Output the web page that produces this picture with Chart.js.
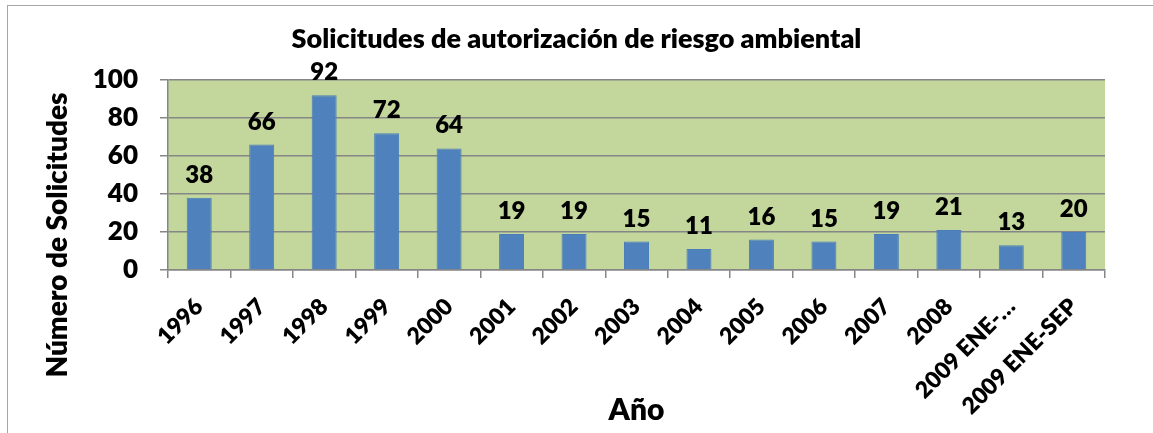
<!DOCTYPE html>
<html>
<head>
<meta charset="utf-8">
<script src="https://cdn.jsdelivr.net/npm/chart.js@4"></script>
<style>
  html, body { margin: 0; padding: 0; background: #fff; }
  #wrap { width: 1153px; height: 433px; position: relative; }
</style>
</head>
<body>
<div id="wrap"><canvas id="requestsChart" width="1153" height="433"></canvas></div>
<script>
// Requests per year (2009 only covers January to September)
const years = ['1996', '1997', '1998', '1999', '2000', '2001', '2002', '2003', '2004',
  '2005', '2006', '2007', '2008', '2009 ENE-…', '2009 ENE-SEP'];
const requests = [38, 66, 92, 72, 64, 19, 19, 15, 11, 16, 15, 19, 21, 13, 20];
const yTicks = [0, 20, 40, 60, 80, 100];

const FONT = 'Lato, "Open Sans", sans-serif';
const WEIGHT = '800';

// green plot background plus the light frame round the whole chart
const plotBackground = {
  id: 'plotBackground',
  beforeDraw(chart) {
    const { ctx, chartArea } = chart;
    ctx.save();
    ctx.fillStyle = '#c3d69b';
    ctx.fillRect(chartArea.left, chartArea.top, chartArea.right - chartArea.left, chartArea.bottom - chartArea.top);
    ctx.strokeStyle = '#a6a6a6';
    ctx.lineWidth = 1;
    ctx.strokeRect(7.5, 5.5, chart.width - 2, chart.height + 10);
    ctx.restore();
  }
};

// value printed above each bar
const valueLabels = {
  id: 'valueLabels',
  afterDatasetsDraw(chart) {
    const { ctx } = chart;
    const meta = chart.getDatasetMeta(0);
    ctx.save();
    ctx.font = WEIGHT + ' 24px ' + FONT;
    ctx.fillStyle = '#000';
    ctx.textAlign = 'center';
    ctx.textBaseline = 'alphabetic';
    meta.data.forEach((bar, i) => {
      ctx.fillText(String(requests[i]), bar.x, bar.y - 15);
    });
    ctx.restore();
  }
};

// vertical axis title, drawn by hand so it can sit lower than the plot centre
const yTitle = {
  id: 'yTitle',
  afterDraw(chart) {
    const { ctx } = chart;
    ctx.save();
    ctx.translate(58, 235);
    ctx.rotate(-Math.PI / 2);
    ctx.font = WEIGHT + ' 28px ' + FONT;
    ctx.fillStyle = '#000';
    ctx.textAlign = 'center';
    ctx.textBaseline = 'middle';
    ctx.fillText('Número de Solicitudes', 0, 0);
    ctx.restore();
  }
};

new Chart(document.getElementById('requestsChart'), {
  type: 'bar',
  data: {
    labels: years,
    datasets: [{
      data: requests,
      backgroundColor: '#4f81bd',
      borderColor: '#4a7ebb',
      borderWidth: 1,
      categoryPercentage: 1,
      barPercentage: 0.4
    }]
  },
  options: {
    responsive: false,
    animation: false,
    layout: { padding: 0 },
    plugins: {
      legend: { display: false },
      tooltip: { enabled: false },
      title: {
        display: true,
        text: 'Solicitudes de autorización de riesgo ambiental',
        color: '#000',
        font: { family: FONT, size: 27, weight: WEIGHT },
        padding: { top: 23, bottom: 24.6 }
      }
    },
    scales: {
      x: {
        afterFit(scale) { scale.height = 163; },
        grid: {
          drawOnChartArea: false,
          drawTicks: true,
          tickLength: 8,
          color: '#868686',
          lineWidth: 1.5
        },
        border: { display: true, color: '#868686', width: 1.5 },
        ticks: {
          color: '#000',
          font: { family: FONT, size: 23, weight: WEIGHT },
          minRotation: 45,
          maxRotation: 45,
          autoSkip: false,
          padding: 15
        },
        title: {
          display: true,
          text: 'Año',
          color: '#000',
          font: { family: FONT, size: 30, weight: WEIGHT },
          padding: { top: 0, bottom: 5 }
        }
      },
      y: {
        min: 0,
        max: 100,
        afterFit(scale) { scale.width = 168; },
        afterBuildTicks(scale) { scale.ticks = yTicks.map(v => ({ value: v })); },
        grid: {
          color: '#868686',
          lineWidth: 1.5,
          tickLength: 8
        },
        border: { display: true, color: '#868686', width: 1.5 },
        ticks: {
          color: '#000',
          font: { family: FONT, size: 26, weight: WEIGHT },
          padding: 22
        }
      },
      // empty strip on the right so the plot stops short of the frame
      spacer: {
        type: 'linear',
        position: 'right',
        afterFit(scale) { scale.width = 48; },
        grid: { display: false },
        border: { display: false },
        ticks: { display: false }
      }
    }
  },
  plugins: [plotBackground, valueLabels, yTitle]
});
</script>
</body>
</html>
